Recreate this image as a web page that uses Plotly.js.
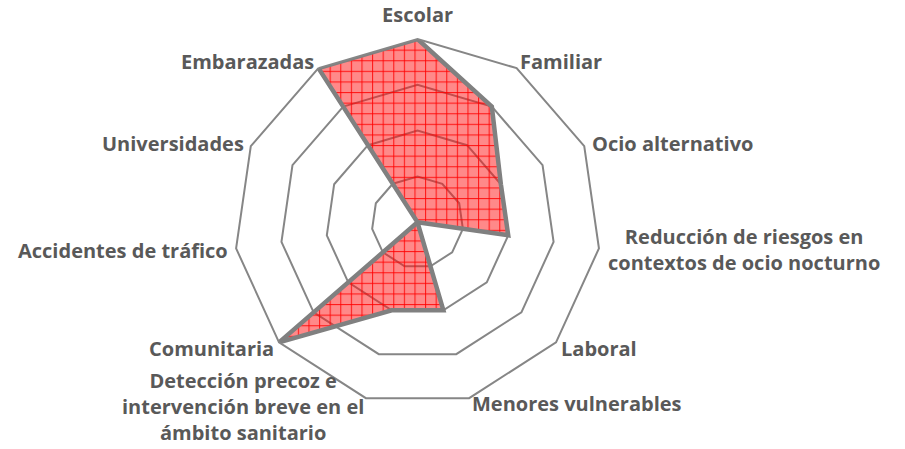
<!DOCTYPE html>
<html>
<head>
<meta charset="utf-8">
<script src="https://cdn.plot.ly/plotly-3.0.1.min.js"></script>
<style>
  html, body { margin: 0; padding: 0; background: #ffffff; }
  #chart { width: 905px; height: 449px; }
</style>
</head>
<body>
<div id="chart"></div>
<script>
// Categories (clockwise from top)
const categories = [
  "Escolar",
  "Familiar",
  "Ocio alternativo",
  "Reducción de riesgos en contextos de ocio nocturno",
  "Laboral",
  "Menores vulnerables",
  "Detección precoz e intervención breve en el ámbito sanitario",
  "Comunitaria",
  "Accidentes de tráfico",
  "Universidades",
  "Embarazadas"
];
// Category labels as drawn (with line breaks)
const tickLabels = [
  "Escolar",
  "Familiar",
  "Ocio alternativo",
  "Reducción de riesgos en<br>contextos de ocio nocturno",
  "Laboral",
  "Menores vulnerables",
  "Detección precoz e<br>intervención breve en el<br>ámbito sanitario",
  "Comunitaria",
  "Accidentes de tráfico",
  "Universidades",
  "Embarazadas"
];
// Series values
const values = [4, 3, 2, 2, 0, 2, 2, 4, 0, 0, 4];

// ---- layout (positions / styles) ----
const W = 905, H = 449;
// label centres in page pixels (x, y from top-left)
const labelCentersPx = [
  [417.5, 15], [561.3, 61.7], [672.5, 143.3], [743.5, 249], [599, 348.3],
  [576.5, 403.3], [243, 406], [211, 348.3], [123, 250], [172.5, 143.3], [248, 61.7]
];
const labelFont = { family: "Open Sans", size: 20, color: "#595959", weight: "bold" };

const rClosed = values.concat([values[0]]);
const thetaClosed = categories.concat([categories[0]]);

const trace = {
  type: "scatterpolar",
  r: rClosed,
  theta: thetaClosed,
  mode: "lines",
  fill: "toself",
  fillcolor: "rgba(255,0,0,0.47)",
  line: { color: "#808080", width: 4.5 },
  hoverinfo: "skip",
  showlegend: false
};

const annotations = tickLabels.map(function (txt, i) {
  return {
    text: txt,
    xref: "paper", yref: "paper",
    x: labelCentersPx[i][0] / W,
    y: 1 - labelCentersPx[i][1] / H,
    xanchor: "center", yanchor: "middle",
    align: "center",
    showarrow: false,
    borderpad: 0,
    font: labelFont
  };
});

const layout = {
  width: W,
  height: H,
  margin: { l: 0, r: 0, t: 0, b: 0 },
  paper_bgcolor: "#ffffff",
  showlegend: false,
  annotations: annotations,
  polar: {
    domain: { x: [0.2588, 0.6639], y: [0.0967, 0.9131] },
    bgcolor: "rgba(0,0,0,0)",
    gridshape: "linear",
    radialaxis: {
      range: [0, 4],
      dtick: 1,
      tick0: 0,
      showticklabels: false,
      ticks: "",
      showline: false,
      gridcolor: "#868686",
      gridwidth: 2
    },
    angularaxis: {
      type: "category",
      categoryarray: categories,
      direction: "clockwise",
      rotation: 90,
      showgrid: false,
      showline: true,
      linecolor: "#868686",
      linewidth: 2,
      ticks: "",
      showticklabels: false
    }
  }
};

Plotly.newPlot("chart", [trace], layout, { staticPlot: true, displayModeBar: false }).then(function (gd) {
  // Crosshatch pattern for the filled area (like the original's patterned fill)
  const svgNS = "http://www.w3.org/2000/svg";
  const svg = gd.querySelector("svg.main-svg");
  let defs = svg.querySelector("defs");
  if (!defs) { defs = document.createElementNS(svgNS, "defs"); svg.insertBefore(defs, svg.firstChild); }
  const pat = document.createElementNS(svgNS, "pattern");
  pat.setAttribute("id", "hatchfill");
  pat.setAttribute("patternUnits", "userSpaceOnUse");
  pat.setAttribute("width", "10.6");
  pat.setAttribute("height", "10.6");
  const bg = document.createElementNS(svgNS, "rect");
  bg.setAttribute("width", "10.6"); bg.setAttribute("height", "10.6");
  bg.setAttribute("fill", "rgba(255,20,20,0.5)");
  pat.appendChild(bg);
  const v = document.createElementNS(svgNS, "rect");
  v.setAttribute("x", "0"); v.setAttribute("y", "0"); v.setAttribute("width", "1.1"); v.setAttribute("height", "10.6");
  v.setAttribute("fill", "rgba(255,0,0,0.8)");
  pat.appendChild(v);
  const h = document.createElementNS(svgNS, "rect");
  h.setAttribute("x", "0"); h.setAttribute("y", "0"); h.setAttribute("width", "10.6"); h.setAttribute("height", "1.1");
  h.setAttribute("fill", "rgba(255,0,0,0.8)");
  pat.appendChild(h);
  defs.appendChild(pat);
  gd.querySelectorAll("path.js-fill").forEach(function (p) {
    p.style.fill = "url(#hatchfill)";
    p.style.fillOpacity = "1";
  });
});
</script>
</body>
</html>
